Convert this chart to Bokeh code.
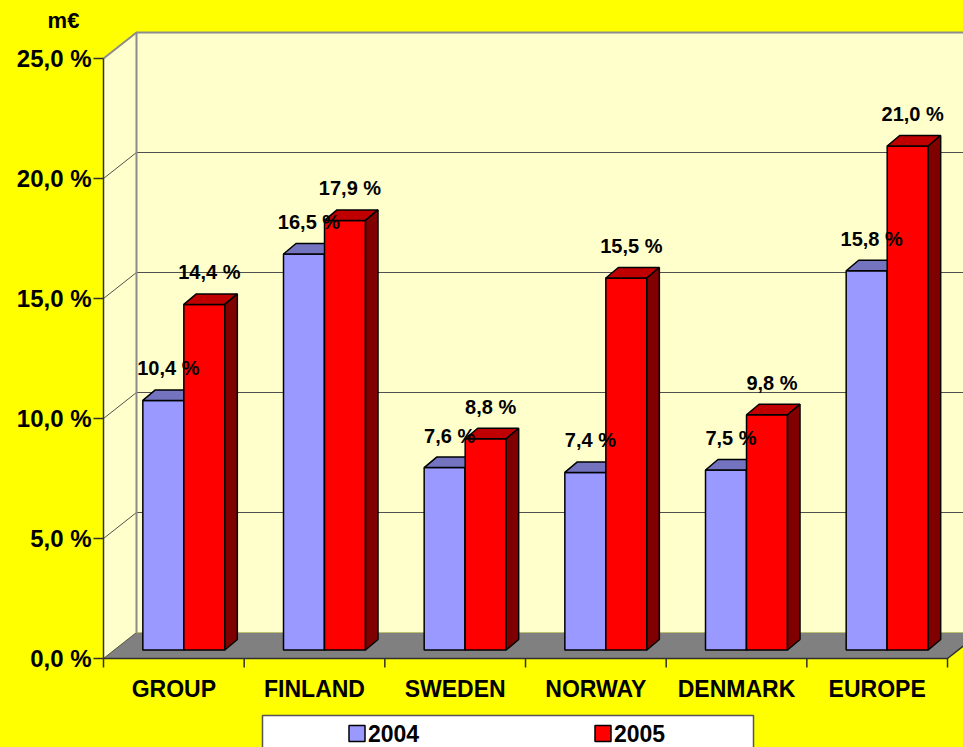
from bokeh.plotting import figure
from bokeh.models import Range1d, GlobalInlineStyleSheet
from bokeh.embed import file_html
from bokeh.resources import INLINE
from bokeh.core.properties import value

# ---------------- data ----------------
categories = ["GROUP", "FINLAND", "SWEDEN", "NORWAY", "DENMARK", "EUROPE"]
values_2004 = [10.4, 16.5, 7.6, 7.4, 7.5, 15.8]
values_2005 = [14.4, 17.9, 8.8, 15.5, 9.8, 21.0]
series_names = ["2004", "2005"]
y_ticks = [0, 5, 10, 15, 20, 25]
y_tick_labels = ["0,0 %", "5,0 %", "10,0 %", "15,0 %", "20,0 %", "25,0 %"]
unit_label = "m€"

# ---------------- layout (pixels) ----------------
W, H = 963, 747
X0, CW = 103.0, 140.67     # canvas x of category 0, px per category
Y0, PY = 658.0, 24.0       # canvas y (from top) of value 0, px per %
DX, DY = 33.0 / CW, 26.0 / PY          # wall depth
FDX, FDY = 10.0 / CW, 8.5 / PY         # bar front face offset
BDX, BDY = 12.5 / CW, 10.5 / PY        # bar depth
BW = 41.0 / CW                          # bar width

def sx(px):
    return (px - X0) / CW

def sy(py):
    return (Y0 - py) / PY

FONT = value("Liberation Sans")
BG = "#FFFF00"
WALL = "#FFFFCC"
FLOOR = "#808080"
GRID = "#505050"
EDGE = "#8C8C8C"
COLORS = {"front": ["#9999FF", "#FF0000"],
          "top": ["#7373C0", "#C00000"],
          "side": ["#4D4D80", "#800000"]}

p = figure(width=W, height=H, output_backend="svg", toolbar_location=None,
           x_range=Range1d(sx(0), sx(W)), y_range=Range1d(sy(H), sy(0)),
           x_axis_type=None, y_axis_type=None, min_border=0)
p.background_fill_color = BG
p.border_fill_color = BG
p.outline_line_color = None
p.grid.visible = False
p.stylesheets = [GlobalInlineStyleSheet(css="body { background-color: #FFFF00; }")]

n = len(categories)
ymax = y_ticks[-1]

# walls and floor
p.patch([DX, DX, n + 1, n + 1], [DY, ymax + DY, ymax + DY, DY], fill_color=WALL, line_color=None)
p.patch([0, 0, DX, DX], [0, ymax, ymax + DY, DY], fill_color=WALL, line_color=None)
p.patch([0, n, n + DX, DX], [0, 0, DY, DY], fill_color=FLOOR, line_color=None)

# gridlines on back wall and left wall
inner = [t for t in y_ticks if 0 < t < ymax]
p.segment(x0=[DX] * len(inner), y0=[t + DY for t in inner],
          x1=[n + 1] * len(inner), y1=[t + DY for t in inner], line_color=GRID, line_width=1)
p.segment(x0=[0] * len(y_ticks[:-1]), y0=y_ticks[:-1],
          x1=[DX] * len(y_ticks[:-1]), y1=[t + DY for t in y_ticks[:-1]], line_color=GRID, line_width=1)
# wall edges
p.line([0, DX, n + 1], [ymax, ymax + DY, ymax + DY], line_color=EDGE, line_width=2)
p.line([DX, DX], [DY, ymax + DY], line_color=EDGE, line_width=2)

# front axes
p.line([0, 0], [0, ymax], line_color="#303030", line_width=1.5)
p.line([0, n, n + DX], [0, 0, DY], line_color="#303030", line_width=1.5)
p.segment(x0=[-10.0 / CW] * len(y_ticks), y0=y_ticks, x1=[0] * len(y_ticks), y1=y_ticks,
          line_color="#303030", line_width=1.5)
xt = list(range(n + 1))
p.segment(x0=xt, y0=[0] * len(xt), x1=xt, y1=[-9.0 / PY] * len(xt),
          line_color="#303030", line_width=1.5)

# tick labels
p.text(x=[sx(91)] * len(y_ticks), y=y_ticks, text=y_tick_labels, text_font=FONT,
       text_font_style="bold", text_font_size="24px", text_align="right",
       text_baseline="middle", text_color="black")
p.text(x=[i + 0.5 for i in range(n)], y=[sy(688)] * n, text=categories, text_font=FONT,
       text_font_style="bold", text_font_size="23px", text_align="center",
       text_baseline="middle", text_color="black")
p.text(x=[sx(63)], y=[sy(20)], text=[unit_label], text_font=FONT, text_font_style="bold",
       text_font_size="22px", text_align="center", text_baseline="middle", text_color="black")

# bars
def fmt(v):
    return f"{v:.1f}".replace(".", ",") + " %"

label_x, label_y, label_t = [], [], []
for k, vals in enumerate([values_2004, values_2005]):
    lefts = [i + 0.5 - BW + k * BW + FDX for i in range(n)]
    rights = [l + BW for l in lefts]
    tops = [v + FDY for v in vals]
    p.quad(left=lefts, right=rights, bottom=[FDY] * n, top=tops,
           fill_color=COLORS["front"][k], line_color="black", line_width=1.5)
    p.patches(xs=[[l, r, r + BDX, l + BDX] for l, r in zip(lefts, rights)],
              ys=[[t, t, t + BDY, t + BDY] for t in tops],
              fill_color=COLORS["top"][k], line_color="black", line_width=1.5)
    p.patches(xs=[[r, r, r + BDX, r + BDX] for r in rights],
              ys=[[FDY, t, t + BDY, FDY + BDY] for t in tops],
              fill_color=COLORS["side"][k], line_color="black", line_width=1.5)
    label_x += [(l + r) / 2 + 5.0 / CW for l, r in zip(lefts, rights)]
    label_y += [t + 32.0 / PY for t in tops]
    label_t += [fmt(v) for v in vals]

p.text(x=label_x, y=label_y, text=label_t,
       text_font=FONT, text_font_style="bold", text_font_size="20px",
       text_align="center", text_baseline="middle", text_color="black")

# legend
LX0, LX1, LT = 262, 753, 715
p.quad(left=[sx(LX0)], right=[sx(LX1)], top=[sy(LT)], bottom=[sy(H + 20)],
       fill_color="white", line_color="#555555", line_width=1.5)
lc = (LX0 + LX1) / 2
for k, name in enumerate(series_names):
    cx = lc + (k - 0.5) * 246
    p.scatter(x=[sx(cx - 28)], y=[sy(733)], marker="square", size=16,
              fill_color=COLORS["front"][k], line_color="black", line_width=1.5)
    p.text(x=[sx(cx - 17)], y=[sy(733)], text=[name], text_font=FONT,
           text_font_style="bold", text_font_size="23px", text_align="left",
           text_baseline="middle", text_color="black")

open("out.html", "w").write(file_html(p, INLINE))
